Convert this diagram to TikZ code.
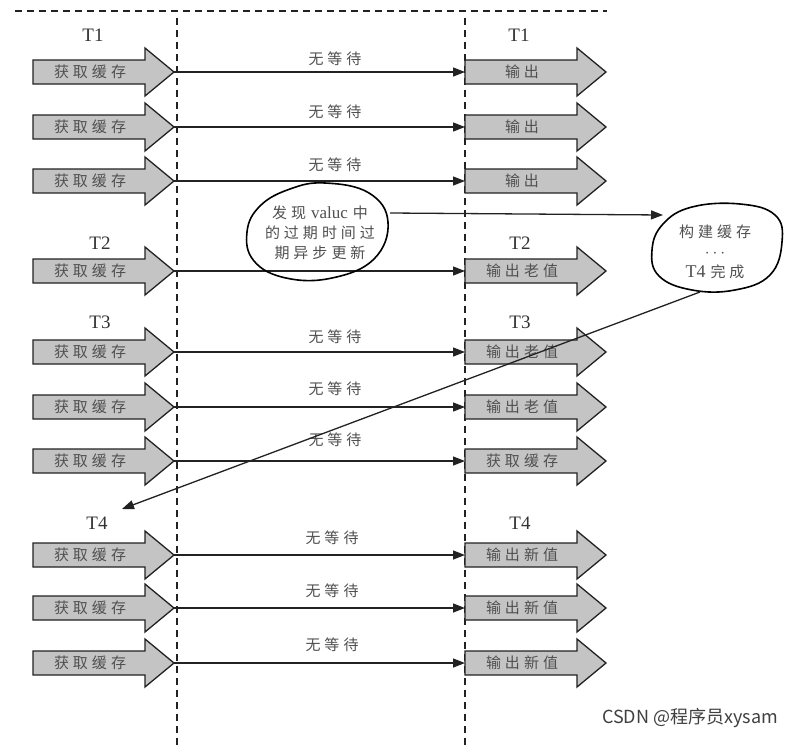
\documentclass[tikz,border=0pt]{standalone}
\usepackage{fontspec}
\setmainfont{Liberation Serif}
\newfontfamily\lserif{Liberation Serif}
\newfontfamily\cjk{Noto Sans CJK SC}
\usetikzlibrary{arrows.meta}
\definecolor{boxgray}{HTML}{C4C4C4}
\definecolor{txtgray}{HTML}{505050}
\definecolor{linedark}{HTML}{222222}
\newcommand\gk{\kern4pt}
\newcommand\garrow[4]{%
  \filldraw[abody] (#2,#3-12) -- (#2+112,#3-12) -- (#2+112,#3-24) -- (#2+141,#3)
     -- (#2+112,#3+24) -- (#2+112,#3+12) -- (#2,#3+12) -- cycle;
  \node[atext] (#1) at (#2+57,#3) {#4};
  \coordinate (#1-tip) at (#2+141,#3);
  \coordinate (#1-tail) at (#2,#3);
}
\begin{document}
\begin{tikzpicture}[x=1pt,y=-1pt,
  abody/.style={fill=boxgray,draw=linedark,line width=1.3pt,line join=miter},
  atext/.style={font=\cjk\fontsize{15}{15}\selectfont,text=txtgray,inner sep=0pt},
  wait/.style={font=\cjk\fontsize{15}{15}\selectfont,text=txtgray,inner sep=0pt},
  tlabel/.style={font=\lserif\fontsize{19}{19}\selectfont,text=black!80,inner sep=0pt},
  conn/.style={draw=linedark,line width=1.3pt,-{Triangle[length=12pt,width=9pt]}},
  divider/.style={draw=linedark,line width=1.2pt,dash pattern=on 7pt off 5pt},
  hand/.style={draw=black,line width=1.6pt},
  etext/.style={font=\cjk\fontsize{15}{20}\selectfont,text=txtgray,inner sep=0pt,align=center}]
\useasboundingbox (0,0) rectangle (797,745);
\fill[white] (0,0) rectangle (797,745);
% dividers
\draw[divider] (15,11) -- (607,11);
\draw[divider] (177,18) -- (177,745);
\draw[divider] (465,18) -- (465,745);
% time labels
\node[tlabel] (t1l) at (93,35) {T1};
\node[tlabel] (t1r) at (519,35) {T1};
\node[tlabel] (t2l) at (100,243) {T2};
\node[tlabel] (t2r) at (520,243) {T2};
\node[tlabel] (t3l) at (100,322) {T3};
\node[tlabel] (t3r) at (520,322) {T3};
\node[tlabel] (t4l) at (97,523) {T4};
\node[tlabel] (t4r) at (520,523) {T4};
% left arrows
\garrow{l1}{33}{72}{获\gk 取\gk 缓\gk 存}
\garrow{l2}{33}{127}{获\gk 取\gk 缓\gk 存}
\garrow{l3}{33}{181}{获\gk 取\gk 缓\gk 存}
\garrow{l4}{33}{271}{获\gk 取\gk 缓\gk 存}
\garrow{l5}{33}{352}{获\gk 取\gk 缓\gk 存}
\garrow{l6}{33}{407}{获\gk 取\gk 缓\gk 存}
\garrow{l7}{33}{461}{获\gk 取\gk 缓\gk 存}
\garrow{l8}{33}{555}{获\gk 取\gk 缓\gk 存}
\garrow{l9}{33}{608}{获\gk 取\gk 缓\gk 存}
\garrow{l10}{33}{663}{获\gk 取\gk 缓\gk 存}
% right arrows
\garrow{r1}{465}{72}{输\gk 出}
\garrow{r2}{465}{127}{输\gk 出}
\garrow{r3}{465}{181}{输\gk 出}
\garrow{r4}{465}{271}{输\gk 出\gk 老\gk 值}
\garrow{r5}{465}{352}{输\gk 出\gk 老\gk 值}
\garrow{r6}{465}{407}{输\gk 出\gk 老\gk 值}
\garrow{r7}{465}{461}{获\gk 取\gk 缓\gk 存}
\garrow{r8}{465}{555}{输\gk 出\gk 新\gk 值}
\garrow{r9}{465}{608}{输\gk 出\gk 新\gk 值}
\garrow{r10}{465}{663}{输\gk 出\gk 新\gk 值}
% connectors
\foreach \i in {1,...,10} {\draw[conn] (l\i-tip) -- (r\i-tail);}
% wait labels
\node[wait] (w1) at (335,59) {无\gk 等\gk 待};
\node[wait] (w2) at (335,112) {无\gk 等\gk 待};
\node[wait] (w3) at (335,165) {无\gk 等\gk 待};
\node[wait] (w5) at (335,337) {无\gk 等\gk 待};
\node[wait] (w6) at (335,389) {无\gk 等\gk 待};
\node[wait] (w7) at (335,440) {无\gk 等\gk 待};
\node[wait] (w8) at (332,538) {无\gk 等\gk 待};
\node[wait] (w9) at (332,591) {无\gk 等\gk 待};
\node[wait] (w10) at (332,645) {无\gk 等\gk 待};
% ellipse 1
\draw[hand] plot[smooth cycle,tension=0.7] coordinates {(325,183) (369,193) (388,222) (374,259) (332,278) (286,278) (254,261) (247,232) (260,206) (290,189)};
\node[etext] (e1) at (320,233) {发\gk 现\kern5pt{\lserif\fontsize{17}{17}\selectfont valuc}\kern5pt 中\\的\gk 过\gk 期\gk 时\gk 间\gk 过\\期\gk 异\gk 步\gk 更\gk 新};
% ellipse 2
\draw[hand] plot[smooth cycle,tension=0.7] coordinates {(692,207) (740,204) (775,215) (782,242) (770,275) (735,290) (692,290) (659,276) (652,250) (663,224)};
\node[etext] (e2) at (715,252) {构\gk 建\gk 缓\gk 存\\{\lserif\fontsize{17}{17}\selectfont $\cdots$}\\{\lserif\fontsize{18}{18}\selectfont T4}\kern5pt 完\gk 成};
% long connectors
\coordinate (e1out) at (390,213);
\coordinate (e2in) at (663,215);
\coordinate (e2out) at (700,292);
\coordinate (t4in) at (122,509);
\draw[conn] (e1out) -- (e2in);
\draw[conn] (e2out) -- (t4in);
% watermark
\node[font=\cjk\fontsize{18}{18}\selectfont,text=black!75,inner sep=0pt] (wm) at (690,718) {CSDN @程序员xysam};
\end{tikzpicture}
\end{document}
